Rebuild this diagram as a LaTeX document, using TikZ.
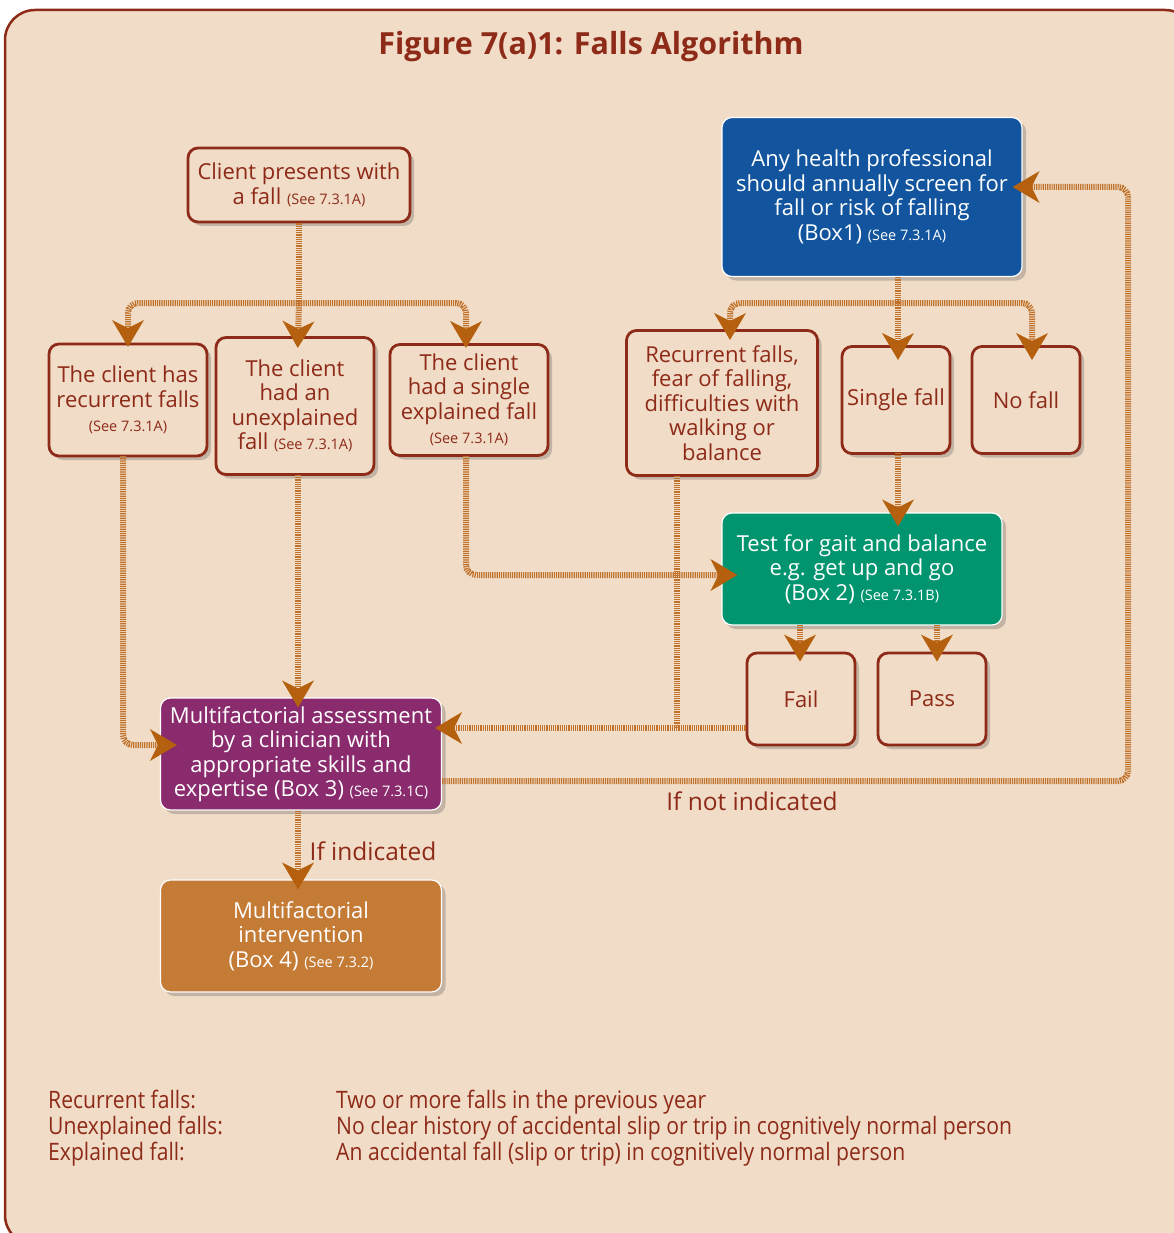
\documentclass[tikz,border=0pt]{standalone}
\usepackage{fontspec}
\setmainfont{Open Sans}
\newfontfamily\condfont[FakeStretch=0.88]{Open Sans}
\usetikzlibrary{arrows.meta,shadows}
\definecolor{bg}{HTML}{F0DCC7}
\definecolor{dred}{HTML}{8E2A18}
\definecolor{railc}{HTML}{C0722A}
\definecolor{tipc}{HTML}{B5600E}
\definecolor{boxblue}{HTML}{12559E}
\definecolor{boxgreen}{HTML}{00956F}
\definecolor{boxpurple}{HTML}{8A2B6E}
\definecolor{boxorange}{HTML}{C47B36}
\newcommand\seeref[1]{{\fontsize{14.5}{16}\selectfont(See #1)}}
\tikzset{
  shad/.style={drop shadow={opacity=0.28, shadow xshift=4pt, shadow yshift=-4pt, fill=black!70}},
  plainbox/.style={draw=dred, line width=2.8pt, fill=bg, rounded corners=10pt, text=dred,
    align=center, inner sep=0pt, shad, font=\fontsize{22}{24.5}\selectfont},
  colbox/.style={draw=white, line width=1.2pt, rounded corners=10pt, text=white,
    align=center, inner sep=0pt, shad, font=\fontsize{22}{24.5}\selectfont},
  railline/.style={draw=railc, line width=6pt, dash pattern=on 1.2pt off 1pt, rounded corners=10pt},
  railarrow/.style={railline, -{Stealth[length=27pt, width=32pt, inset=8pt, line width=0pt, color=tipc]}, shorten >=-10pt},
  lbl/.style={text=dred, font=\fontsize{24.5}{28}\selectfont, inner sep=0pt},
  defl/.style={text=dred, font=\condfont\fontsize{24}{26}\selectfont, inner sep=0pt, anchor=base west},
}
\begin{document}
\begin{tikzpicture}[x=1pt, y=-1pt]
\useasboundingbox (0,0) rectangle (1173,1233);
\fill[white] (0,0) rectangle (1173,1233);
\draw[dred, line width=2.5pt, fill=bg, rounded corners=30pt] (5,10) rectangle (1195,1245);
\node[text=dred, font=\bfseries\fontsize{30.5}{35}\selectfont] (title) at (591,47) {Figure 7(a)1: Falls Algorithm};

% nodes
\node[plainbox, minimum width=222, minimum height=74] (present) at (299,185) {Client presents with\\a fall \seeref{7.3.1A}};
\node[plainbox, minimum width=158, minimum height=112] (recur) at (128,400) {The client has\\recurrent falls\\\seeref{7.3.1A}};
\node[plainbox, minimum width=158, minimum height=137] (unexpl) at (295,406) {The client\\had an\\unexplained\\fall \seeref{7.3.1A}};
\node[plainbox, minimum width=158, minimum height=111] (single) at (469,400) {The client\\had a single\\explained fall\\\seeref{7.3.1A}};
\node[colbox, fill=boxblue, minimum width=300, minimum height=159] (screen) at (872,197) {Any health professional\\should annually screen for\\fall or risk of falling\\(Box1) \seeref{7.3.1A}};
\node[plainbox, minimum width=191, minimum height=145] (rfear) at (722,403) {Recurrent falls,\\fear of falling,\\difficulties with\\walking or\\balance};
\node[plainbox, minimum width=108, minimum height=107] (sfall) at (896,400) {Single fall};
\node[plainbox, minimum width=108, minimum height=107] (nofall) at (1026,400) {No fall};
\node[colbox, fill=boxgreen, minimum width=280, minimum height=112] (gait) at (862,569) {Test for gait and balance\\e.g. get up and go\\(Box 2) \seeref{7.3.1B}};
\node[plainbox, minimum width=108, minimum height=92] (fail) at (801,699) {Fail};
\node[plainbox, minimum width=108, minimum height=92] (pass) at (932,699) {Pass};
\node[colbox, fill=boxpurple, minimum width=281, minimum height=112] (assess) at (301,754) {Multifactorial assessment\\by a clinician with\\appropriate skills and\\expertise (Box 3) \seeref{7.3.1C}};
\node[colbox, fill=boxorange, minimum width=281, minimum height=112] (interv) at (301,936) {Multifactorial\\intervention\\(Box 4) \seeref{7.3.2}};

% junction coordinates
\coordinate (j1) at (299,303);
\coordinate (j2) at (898,303);
\coordinate (j3) at (677,728);
\coordinate (c1) at (1128,187);

% connectors
\draw[railline] (present.south) -- (j1);
\draw[railarrow, shorten >=-3pt] (j1) -| (128,344);
\draw[railarrow] (j1) -- (298,338);
\draw[railarrow, shorten >=-3pt] (j1) -| (466,345);

\draw[railline] (screen.south -| j2) -- (j2);
\draw[railarrow, shorten >=-9pt] (j2) -| (730,331);
\draw[railarrow, shorten >=-14pt] (j2) -- (898,346);
\draw[railarrow, shorten >=-14pt] (j2) -| (1032,346);

\draw[railarrow, shorten >=-17pt] (123,456) |- (assess.west |- 0,745);
\draw[railarrow] (298,475) -- (assess.north -| 298,0);
\draw[railarrow, shorten >=-16pt] (466,456) |- (gait.west |- 0,575);
\draw[railarrow, shorten >=-14pt] (898,453) -- (gait.north -| 898,0);
\draw[railarrow] (800,625) -- (fail.north -| 800,0);
\draw[railarrow] (937,625) -- (pass.north -| 937,0);
\draw[railline] (677,476) -- (j3);
\draw[railarrow, shorten >=-7pt] (fail.west |- j3) -- (assess.east |- j3);
\draw[railarrow] (assess.east |- 0,781) -| (c1) -- (screen.east |- c1);
\draw[railarrow] (assess.south -| 298,0) -- (interv.north -| 298,0);

\node[lbl] (notind) at (752,801) {If not indicated};
\node[lbl] (ifind) at (373,851) {If indicated};

% definitions
\node[defl] (d1a) at (48,1108) {Recurrent falls:};
\node[defl] (d2a) at (48,1134) {Unexplained falls:};
\node[defl] (d3a) at (48,1160) {Explained fall:};
\node[defl] (d1b) at (336,1108) {Two or more falls in the previous year};
\node[defl] (d2b) at (336,1134) {No clear history of accidental slip or trip in cognitively normal person};
\node[defl] (d3b) at (336,1160) {An accidental fall (slip or trip) in cognitively normal person};
\end{tikzpicture}
\end{document}
